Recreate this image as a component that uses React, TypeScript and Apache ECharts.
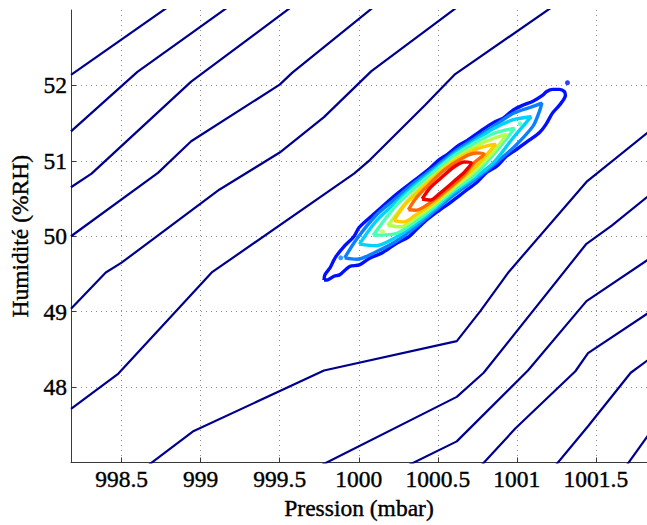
import React, { useEffect, useRef } from 'react';
import * as echarts from 'echarts';

const xTicks = [998.5, 999, 999.5, 1000, 1000.5, 1001, 1001.5];
const yTicks = [48, 49, 50, 51, 52];

// low-level (navy) contour lines
const navyA = [[998.18, 52.14], [998.8, 53.05]];
const navyB = [[998.18, 51.39], [998.6, 52.18], [999.18, 53.05]];
const navyC = [[998.18, 50.65], [998.31, 50.83], [998.94, 52.05], [999.58, 53.05]];
const navyD = [[998.18, 50.0], [998.73, 50.84], [998.94, 51.26], [999.5, 52.01], [999.58, 52.17], [1000.1, 53.05]];
const navyE = [[998.18, 49.04], [998.4, 49.52], [998.5, 49.65], [999.12, 50.62], [999.5, 51.11], [999.78, 51.58], [1000.08, 52.19], [1000.63, 53.05]];
const navyF = [[998.18, 47.71], [998.48, 48.18], [999.07, 49.52], [999.97, 50.83], [1000.07, 51.01], [1000.42, 51.74], [1000.61, 52.15], [1001.23, 53.05]];
const navyG = [[998.66, 46.95], [998.95, 47.41], [999.78, 48.22], [1000.62, 48.61], [1000.77, 49.01], [1000.95, 49.53], [1001.44, 50.72], [1001.83, 51.38]];
const navyH = [[999.75, 46.95], [1000.62, 47.87], [1000.79, 48.19], [1001.44, 49.9], [1001.6, 50.14], [1001.83, 50.53]];
const navyI = [[1000.3, 46.95], [1000.62, 47.28], [1001.07, 48.22], [1001.44, 49.14], [1001.83, 49.69]];
const navyJ = [[1000.77, 46.95], [1000.99, 47.45], [1001.37, 48.21], [1001.45, 48.45], [1001.83, 48.98]];
const navyK = [[1001.24, 46.95], [1001.45, 47.48], [1001.72, 48.19], [1001.83, 48.36]];
const navyL = [[1001.69, 46.95], [1001.83, 47.36]];
const navyLines = [navyA, navyB, navyC, navyD, navyE, navyF, navyG, navyH, navyI, navyJ, navyK, navyL];

// density contours (outer to inner)
const blueRing = [
  [999.78, 49.42], [999.786, 49.49], [999.818, 49.58], [999.837, 49.66], [999.855, 49.73], [999.905, 49.86],
  [999.967, 49.99], [1000.004, 50.12], [1000.11, 50.32], [1000.234, 50.55], [1000.358, 50.75], [1000.438, 50.88],
  [1000.5, 51.0], [1000.563, 51.09], [1000.625, 51.195], [1000.687, 51.27], [1000.774, 51.4], [1000.854, 51.51],
  [1000.916, 51.57], [1000.978, 51.675], [1001.04, 51.74], [1001.102, 51.79], [1001.164, 51.87], [1001.189, 51.92],
  [1001.226, 51.948], [1001.27, 51.948], [1001.3, 51.92], [1001.307, 51.87], [1001.27, 51.74], [1001.226, 51.636],
  [1001.183, 51.48], [1001.145, 51.38], [1001.083, 51.28], [1000.996, 51.15], [1000.934, 51.06], [1000.873, 50.93],
  [1000.81, 50.85], [1000.749, 50.72], [1000.668, 50.59], [1000.587, 50.46], [1000.5, 50.33], [1000.42, 50.2],
  [1000.358, 50.075], [1000.314, 49.99], [1000.234, 49.9], [1000.152, 49.785], [1000.066, 49.705], [1000.004, 49.62],
  [999.942, 49.6], [999.88, 49.49], [999.843, 49.47], [999.8, 49.42], [999.78, 49.42]
];
const azureRing = [
  [999.911, 49.714], [999.986, 49.961], [1000.11, 50.279], [1000.234, 50.5], [1000.358, 50.721], [1000.482, 50.916],
  [1000.606, 51.123], [1000.73, 51.292], [1000.854, 51.461], [1000.978, 51.63], [1001.102, 51.721], [1001.158, 51.766],
  [1001.145, 51.67], [1001.102, 51.46], [1000.978, 51.175], [1000.854, 50.95], [1000.73, 50.743], [1000.606, 50.555],
  [1000.482, 50.34], [1000.358, 50.12], [1000.234, 49.93], [1000.11, 49.795], [999.986, 49.695], [999.911, 49.714]
];
const cyanRing = [
  [1000.004, 49.896], [1000.11, 50.201], [1000.234, 50.448], [1000.358, 50.682], [1000.482, 50.89], [1000.606, 51.097],
  [1000.73, 51.26], [1000.854, 51.429], [1000.978, 51.545], [1001.09, 51.584], [1000.978, 51.31], [1000.854, 50.98],
  [1000.73, 50.775], [1000.606, 50.59], [1000.482, 50.37], [1000.358, 50.16], [1000.234, 49.985], [1000.11, 49.875],
  [1000.004, 49.896]
];
const aquaRing = [
  [1000.091, 50.013], [1000.234, 50.403], [1000.358, 50.649], [1000.482, 50.864], [1000.606, 51.071], [1000.73, 51.234],
  [1000.854, 51.364], [1000.985, 51.429], [1000.854, 51.09], [1000.73, 50.805], [1000.606, 50.618], [1000.482, 50.397],
  [1000.358, 50.195], [1000.234, 50.035], [1000.091, 50.013]
];
const greenRing = [
  [1000.184, 50.143], [1000.296, 50.442], [1000.358, 50.584], [1000.482, 50.818], [1000.606, 51.026], [1000.73, 51.182],
  [1000.854, 51.299], [1000.935, 51.351], [1000.854, 51.125], [1000.73, 50.86], [1000.606, 50.65], [1000.482, 50.43],
  [1000.358, 50.24], [1000.265, 50.125], [1000.184, 50.143]
];
const yellowRing = [
  [1000.221, 50.208], [1000.296, 50.429], [1000.358, 50.558], [1000.482, 50.792], [1000.606, 51.0], [1000.73, 51.143],
  [1000.804, 51.195], [1000.867, 51.221], [1000.792, 51.04], [1000.73, 50.905], [1000.606, 50.68], [1000.482, 50.46],
  [1000.358, 50.28], [1000.283, 50.19], [1000.221, 50.208]
];
const orangeRing = [
  [1000.314, 50.351], [1000.358, 50.494], [1000.42, 50.636], [1000.544, 50.883], [1000.668, 51.052], [1000.743, 51.104],
  [1000.792, 51.091], [1000.73, 50.975], [1000.668, 50.815], [1000.544, 50.59], [1000.42, 50.4], [1000.358, 50.345],
  [1000.314, 50.351]
];
const redRing = [
  [1000.401, 50.494], [1000.451, 50.64], [1000.513, 50.76], [1000.606, 50.925], [1000.668, 50.985], [1000.712, 50.974],
  [1000.668, 50.85], [1000.606, 50.735], [1000.513, 50.57], [1000.451, 50.48], [1000.401, 50.494]
];
const blueDots = [[1001.32, 52.035]];
const azureDots = [[999.886, 49.714]];
const aquaDots = [[1001.02, 51.49]];
const greenDots = [[1000.15, 50.06]];

const rings = [
  { data: blueRing, color: '#0010ff' },
  { data: azureRing, color: '#0a80ff' },
  { data: cyanRing, color: '#00d2ff' },
  { data: aquaRing, color: '#48ffb6' },
  { data: greenRing, color: '#b6ff48' },
  { data: yellowRing, color: '#ffcc00' },
  { data: orangeRing, color: '#ff6a00' },
  { data: redRing, color: '#ee0000' },
];
const dots = [
  { data: blueDots, color: '#0010ff' },
  { data: azureDots, color: '#0a80ff' },
  { data: aquaDots, color: '#48ffb6' },
  { data: greenDots, color: '#b6ff48' },
];

const FONT = '"Liberation Serif", "Times New Roman", serif';
const textHeavy = { textBorderColor: '#000', textBorderWidth: 0.4 };

export default function App() {
  const ref = useRef<HTMLDivElement>(null);
  useEffect(() => {
    document.body.style.margin = '0';
    const chart = echarts.init(ref.current as HTMLDivElement, null, { renderer: 'svg' });
    const series: any[] = [];
    navyLines.forEach((d) => {
      series.push({
        type: 'line', data: d, showSymbol: false, symbol: 'none', silent: true,
        lineStyle: { color: '#00008f', width: 2.2 }, z: 2,
      });
    });
    rings.forEach((r) => {
      series.push({
        type: 'line', data: r.data, showSymbol: false, symbol: 'none', silent: true, smooth: 0.3,
        lineStyle: { color: r.color, width: 3.4 }, z: 3,
      });
    });
    dots.forEach((r) => {
      series.push({
        type: 'scatter', data: r.data, symbol: 'circle', symbolSize: 5, silent: true,
        itemStyle: { color: r.color }, z: 3,
      });
    });
    chart.setOption({
      animation: false,
      grid: { left: 69, right: -9, top: 10, bottom: 54, containLabel: false },
      xAxis: {
        type: 'value', min: 998.18, max: 1001.823,
        axisLine: { onZero: false, lineStyle: { color: '#3a3a3a', width: 1 } },
        axisTick: { inside: true, length: 5, customValues: xTicks, lineStyle: { color: '#3a3a3a' } },
        axisLabel: {
          customValues: xTicks, color: '#000', fontFamily: FONT, fontSize: 23.5, margin: 4,
          formatter: (v: number) => String(v), ...textHeavy,
        },
        splitLine: { show: true, lineStyle: { color: '#8c8c8c', type: [1, 4], width: 1 } },
        name: 'Pression (mbar)', nameLocation: 'middle', nameGap: 23,
        nameTextStyle: { color: '#000', fontFamily: FONT, fontSize: 23.5, ...textHeavy },
      },
      yAxis: {
        type: 'value', min: 47, max: 53,
        axisLine: { onZero: false, lineStyle: { color: '#3a3a3a', width: 1 } },
        axisTick: { inside: true, length: 5, customValues: yTicks, lineStyle: { color: '#3a3a3a' } },
        axisLabel: {
          customValues: yTicks, color: '#000', fontFamily: FONT, fontSize: 23.5, margin: 4,
          formatter: (v: number) => String(v), ...textHeavy,
        },
        splitLine: { show: true, lineStyle: { color: '#8c8c8c', type: [1, 4], width: 1 } },
        name: 'Humidité (%RH)', nameLocation: 'middle', nameGap: 31, nameRotate: 90,
        nameTextStyle: { color: '#000', fontFamily: FONT, fontSize: 23.5, ...textHeavy },
      },
      series,
    });
    return () => chart.dispose();
  }, []);
  return <div ref={ref} style={{ width: 647, height: 525 }} />;
}
